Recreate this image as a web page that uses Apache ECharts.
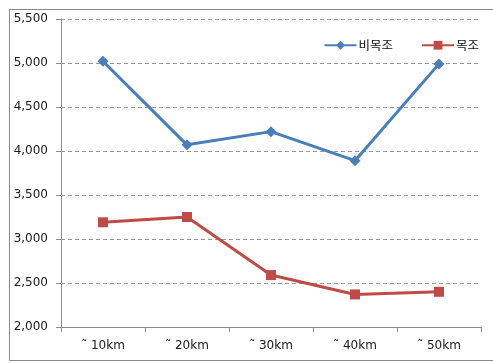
<!DOCTYPE html>
<html>
<head>
<meta charset="utf-8">
<script src="https://cdn.jsdelivr.net/npm/echarts@6/dist/echarts.min.js"></script>
<style>
  html, body { margin: 0; padding: 0; background: #fff; }
  #chart { width: 493px; height: 363px; }
</style>
</head>
<body>
<div id="chart"></div>
<script>
// Distance bands along the x axis
const categories = ['˜ 10km', '˜ 20km', '˜ 30km', '˜ 40km', '˜ 50km'];
// Non-wooden structures
const nonWoodValues = [5020, 4070, 4220, 3890, 4990];
// Wooden structures
const woodValues = [3190, 3250, 2590, 2370, 2400];
const seriesNames = ['비목조', '목조'];

const chart = echarts.init(document.getElementById('chart'));
const labelFont = 'DejaVu Sans, Verdana, sans-serif';

chart.setOption({
  animation: false,
  backgroundColor: '#fff',
  graphic: [{
    type: 'rect',
    shape: { x: 9.5, y: 9.5, width: 500, height: 351 },
    style: { fill: 'none', stroke: '#8a8a8a', lineWidth: 1 },
    silent: true
  }],
  legend: {
    top: 34,
    right: 9,
    itemWidth: 32,
    itemHeight: 11,
    itemGap: 28,
    textStyle: { fontFamily: 'Noto Sans CJK KR', fontSize: 12.5, color: '#111', padding: [0, 0, 0, -3] },
    data: seriesNames
  },
  grid: { left: 61, right: 12, top: 19, bottom: 36 },
  xAxis: {
    type: 'category',
    data: categories,
    boundaryGap: true,
    axisLine: { lineStyle: { color: '#8c8c8c', width: 1 } },
    axisTick: { show: true, length: 5, alignWithLabel: false, lineStyle: { color: '#8c8c8c' } },
    axisLabel: { fontFamily: labelFont, fontSize: 12, color: '#1a1a1a', margin: 13 }
  },
  yAxis: {
    type: 'value',
    min: 2000,
    max: 5500,
    interval: 500,
    axisLine: { show: true, lineStyle: { color: '#8c8c8c', width: 1 } },
    axisTick: { show: true, length: 5, lineStyle: { color: '#8c8c8c' } },
    axisLabel: {
      fontFamily: labelFont, fontSize: 12, color: '#1a1a1a', margin: 13,
      formatter: v => v.toLocaleString('en-US')
    },
    splitLine: { show: true, lineStyle: { color: '#9a9a9a', type: [4, 3], width: 1 } }
  },
  series: [
    {
      name: seriesNames[0],
      type: 'line',
      data: nonWoodValues,
      symbol: 'diamond',
      symbolSize: 11,
      color: '#4a7ebb',
      lineStyle: { width: 3, color: '#4a7ebb' },
      itemStyle: { color: '#4a7ebb' }
    },
    {
      name: seriesNames[1],
      type: 'line',
      data: woodValues,
      symbol: 'rect',
      symbolSize: 10,
      color: '#be4b48',
      lineStyle: { width: 3, color: '#be4b48' },
      itemStyle: { color: '#be4b48' }
    }
  ]
});
</script>
</body>
</html>
